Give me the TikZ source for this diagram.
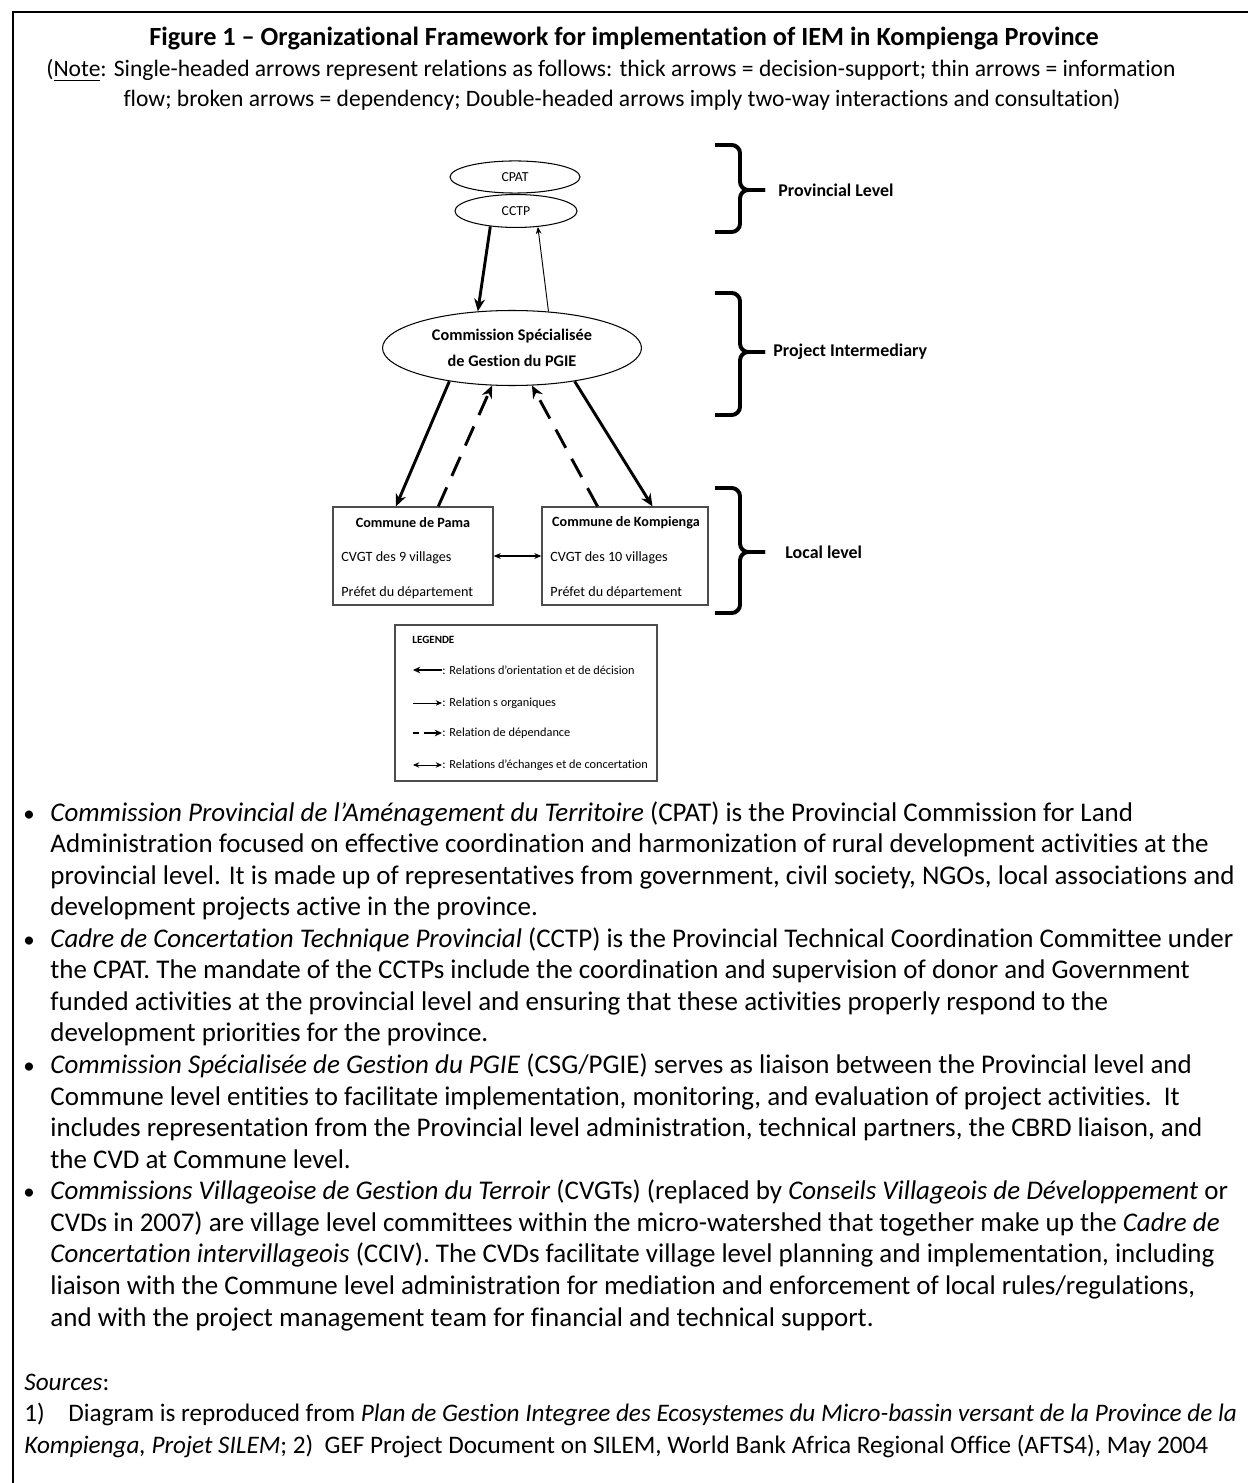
\documentclass[tikz,border=0pt]{standalone}
\usepackage{fontspec}
\setmainfont{Carlito}[Ligatures=NoCommon]
\usetikzlibrary{shapes.geometric,arrows.meta,calc}
\begin{document}
\begin{tikzpicture}[x=0.48pt,y=-0.48pt,
  ell/.style={draw, ellipse, inner sep=0pt, line width=0.5pt},
  cbox/.style={draw=black!70, rectangle, inner sep=0pt, line width=0.6pt},
  thickarr/.style={line width=1.4pt, -{Stealth[length=6pt,width=5.2pt]}},
  thinarr/.style={line width=0.45pt, -{Stealth[length=3.4pt,width=2.8pt]}},
  dasharr/.style={line width=1.4pt, dash pattern=on 10pt off 6pt, -{Stealth[length=6pt,width=5.2pt]}},
  dblarr/.style={line width=0.5pt, {Stealth[length=3.4pt,width=2.8pt]}-{Stealth[length=3.4pt,width=2.8pt]}},
  bracepath/.style={line width=1.9pt, rounded corners=4pt},
  body/.style={anchor=base west, inner sep=0pt, font=\fontsize{12.95}{15}\selectfont},
  src/.style={anchor=base west, inner sep=0pt, font=\fontsize{12.1}{14}\selectfont},
  ctr/.style={anchor=base, inner sep=0pt, font=\fontsize{11.3}{13}\selectfont},
  lvl/.style={anchor=west, inner sep=0pt, font=\fontsize{8.6}{10}\selectfont\bfseries},
  boxtxt/.style={anchor=west, inner sep=0pt, font=\fontsize{6.8}{8}\selectfont},
  legtxt/.style={anchor=west, inner sep=0pt, font=\fontsize{5.9}{7}\selectfont},
]
\useasboundingbox (0,0) rectangle (1248,1483);
% frame
\draw[line width=1pt] (13,1483) -- (13,12) -- (1248,12);

% title
\node[anchor=base, inner sep=0pt, font=\fontsize{12.6}{15}\selectfont\bfseries] (title) at (624,46) {Figure 1 – Organizational Framework for implementation of IEM in Kompienga Province};
\node[ctr] (note1) at (611,77) {(\underline{Note}: Single-headed arrows represent relations as follows: thick arrows = decision-support; thin arrows = information};
\node[ctr] (note2) at (622,107) {flow; broken arrows = dependency; Double-headed arrows imply two-way interactions and consultation)};

% ellipses
\node[ell, minimum width=62.4pt, minimum height=15.4pt, font=\fontsize{6.6}{7}\selectfont] (cpat) at (515,177) {CPAT};
\node[ell, minimum width=58.6pt, minimum height=15.8pt, font=\fontsize{6.6}{7}\selectfont] (cctp) at (516,211) {CCTP};
\node[ell, minimum width=124.3pt, minimum height=36pt, align=center, font=\fontsize{7.8}{12.6}\selectfont\bfseries] (csg) at (512,348) {Commission Spécialisée\\de Gestion du PGIE};

% boxes
\node[cbox, minimum width=76.8pt, minimum height=47pt] (pama) at (413,556) {};
\node[cbox, minimum width=79.7pt, minimum height=47pt] (komp) at (625,556) {};
\node[inner sep=0pt, font=\fontsize{6.8}{8}\selectfont\bfseries] (pamah) at (413,523) {Commune de Pama};
\node[boxtxt] (pama1) at (341,558) {CVGT des 9 villages};
\node[boxtxt] (pama2) at (341,593) {Préfet du département};
\node[inner sep=0pt, font=\fontsize{6.8}{8}\selectfont\bfseries] (komph) at (626,523) {Commune de Kompienga};
\node[boxtxt] (komp1) at (550,558) {CVGT des 10 villages};
\node[boxtxt] (komp2) at (550,593) {Préfet du département};

% connectors
\draw[thickarr] (cctp.211) -- (csg.133);
\draw[thinarr] (csg.45) -- (cctp.-36);
\draw[thickarr] (csg.208) -- (pama.109);
\draw[dasharr] (pama.63) -- (csg.242);
\draw[dasharr] (komp.119) -- (csg.298);
\draw[thickarr] (csg.332) -- (komp.61);
\draw[dblarr] (pama.east) -- (komp.west);

% braces
\draw[bracepath] (715,145) -- (740,145) -- (740,190) -- (765,190);
\draw[bracepath] (715,232) -- (740,232) -- (740,190) -- (765,190);
\draw[bracepath] (715,293) -- (740,293) -- (740,352) -- (765,352);
\draw[bracepath] (715,415) -- (740,415) -- (740,352) -- (765,352);
\draw[bracepath] (715,488) -- (740,488) -- (740,552) -- (765,552);
\draw[bracepath] (715,613) -- (740,613) -- (740,552) -- (765,552);
\node[lvl] (lv1) at (778,190) {Provincial Level};
\node[lvl] (lv2) at (773,352) {Project Intermediary};
\node[lvl] (lv3) at (785,552) {Local level};

% legend
\node[cbox, minimum width=125.8pt, minimum height=74.9pt] (legend) at (526,703) {};
\node[inner sep=0pt, anchor=west, font=\fontsize{5.3}{6}\selectfont\bfseries] (legh) at (412,640) {LEGENDE};
\coordinate (a1) at (413,670); \coordinate (b1) at (442,670);
\coordinate (a2) at (413,703); \coordinate (b2) at (442,703);
\coordinate (a3) at (413,733); \coordinate (m3) at (419,733); \coordinate (n3) at (424,733); \coordinate (b3) at (442,733);
\coordinate (a4) at (413,765); \coordinate (b4) at (442,765);
\draw[line width=1pt, -{Stealth[length=3.5pt,width=3.2pt]}] (b1) -- (a1);
\draw[line width=0.4pt, -{Stealth[length=3pt,width=2.6pt]}] (a2) -- (b2);
\draw[line width=1.1pt] (a3) -- (m3);
\draw[line width=1.1pt, -{Stealth[length=3.5pt,width=3.2pt]}] (n3) -- (b3);
\draw[line width=0.4pt, {Stealth[length=3pt,width=2.6pt]}-{Stealth[length=3pt,width=2.6pt]}] (a4) -- (b4);
\node[legtxt] (lt1) at (442,670) {: Relations d’orientation et de décision};
\node[legtxt] (lt2) at (442,703) {: Relation s organiques};
\node[legtxt] (lt3) at (442,733) {: Relation de dépendance};
\node[legtxt] (lt4) at (442,765) {: Relations d’échanges et de concertation};

% bullets
\foreach \yy/\nm in {821/b1,947.2/b2,1073.5/b3,1199.7/b4} {
  \node[anchor=base west, inner sep=0pt, font=\fontsize{11}{13}\selectfont] (dot\nm) at (23,\yy) {•};
}
\node[body] (t1) at (50,821) {\textit{Commission Provincial de l’Aménagement du Territoire} (CPAT) is the Provincial Commission for Land};
\node[body] (t2) at (50,852.6) {Administration focused on effective coordination and harmonization of rural development activities at the};
\node[body] (t3) at (50,884.1) {provincial level. It is made up of representatives from government, civil society, NGOs, local associations and};
\node[body] (t4) at (50,915.7) {development projects active in the province.};
\node[body] (t5) at (50,947.2) {\textit{Cadre de Concertation Technique Provincial} (CCTP) is the Provincial Technical Coordination Committee under};
\node[body] (t6) at (50,978.8) {the CPAT. The mandate of the CCTPs include the coordination and supervision of donor and Government};
\node[body] (t7) at (50,1010.4) {funded activities at the provincial level and ensuring that these activities properly respond to the};
\node[body] (t8) at (50,1041.9) {development priorities for the province.};
\node[body] (t9) at (50,1073.5) {\textit{Commission Spécialisée de Gestion du PGIE} (CSG/PGIE) serves as liaison between the Provincial level and};
\node[body] (t10) at (50,1105) {Commune level entities to facilitate implementation, monitoring, and evaluation of project activities.\ \ It};
\node[body] (t11) at (50,1136.6) {includes representation from the Provincial level administration, technical partners, the CBRD liaison, and};
\node[body] (t12) at (50,1168.2) {the CVD at Commune level.};
\node[body] (t13) at (50,1199.7) {\textit{Commissions Villageoise de Gestion du Terroir} (CVGTs) (replaced by \textit{Conseils Villageois de Développement} or};
\node[body] (t14) at (50,1231.3) {CVDs in 2007) are village level committees within the micro-watershed that together make up the \textit{Cadre de}};
\node[body] (t15) at (50,1262.8) {\textit{Concertation intervillageois} (CCIV). The CVDs facilitate village level planning and implementation, including};
\node[body] (t16) at (50,1294.4) {liaison with the Commune level administration for mediation and enforcement of local rules/regulations,};
\node[body] (t17) at (50,1326) {and with the project management team for financial and technical support.};

% sources
\node[src] (s0) at (24,1390) {\textit{Sources}:};
\node[src] (s1n) at (24,1421.6) {1)};
\node[src] (s1) at (68,1421.6) {Diagram is reproduced from \textit{Plan de Gestion Integree des Ecosystemes du Micro-bassin versant de la Province de la}};
\node[src] (s2) at (24,1453) {\textit{Kompienga, Projet SILEM}; 2)\ \ GEF Project Document on SILEM, World Bank Africa Regional Office (AFTS4), May 2004};
\end{tikzpicture}
\end{document}
